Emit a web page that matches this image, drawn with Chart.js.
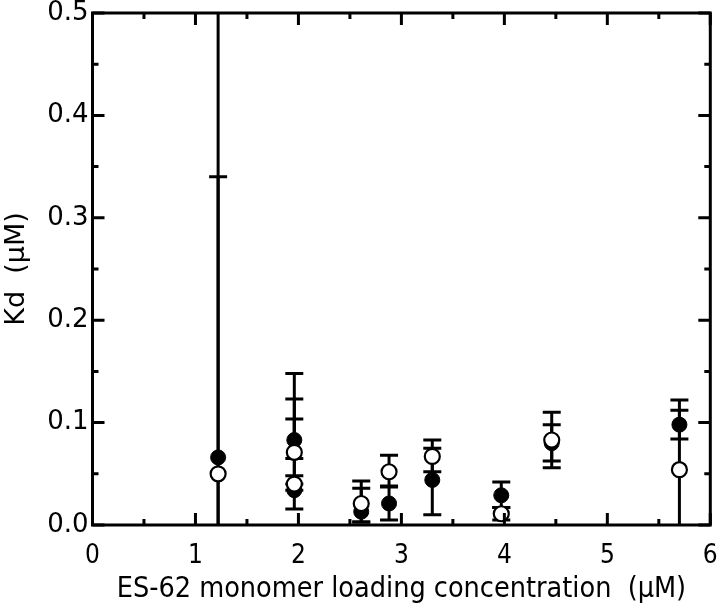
<!DOCTYPE html>
<html>
<head>
<meta charset="utf-8">
<script src="https://cdn.jsdelivr.net/npm/chart.js@4.4.1/dist/chart.umd.min.js"></script>
<style>
  html, body { margin: 0; padding: 0; background: #fff; }
  #wrap { width: 720px; height: 610px; }
</style>
</head>
<body>
<div id="wrap"><canvas id="grafico" width="720" height="610"></canvas></div>
<script>
// loading concentration (uM), same for both series
const concentracao = [1.22, 1.96, 1.96, 2.61, 2.88, 3.30, 3.97, 4.46, 5.70];

// filled circles
const kdCheio = [0.066, 0.083, 0.034, 0.013, 0.021, 0.044, 0.029, 0.080, 0.098];
const kdCheioMax = [0.60, 0.148, 0.1035, 0.036, 0.037, 0.075, 0.042, 0.098, 0.122];
const kdCheioMin = [-0.05, 0.065, 0.0156, 0.003, 0.005, 0.010, 0.017, 0.056, 0.084];

// open circles
const kdAberto = [0.050, 0.071, 0.040, 0.021, 0.052, 0.067, 0.011, 0.083, 0.054];
const kdAbertoMax = [0.340, 0.123, 0.048, 0.043, 0.068, 0.083, 0.017, 0.110, 0.112];
const kdAbertoMin = [-0.05, 0.040, 0.034, 0.003, 0.038, 0.052, 0.005, 0.0625, -0.05];

const xTicks = [0, 1, 2, 3, 4, 5, 6];
const yTicks = [0.0, 0.1, 0.2, 0.3, 0.4, 0.5];

const fonteNormal = 'DejaVu Sans';
const fonteEstreita = '"DejaVu Sans Condensed", "Liberation Sans Narrow", "DejaVu Sans"';

function pontos(ys) {
    return concentracao.map((x, i) => ({ x: x, y: ys[i] }));
}

const barras = [
    { min: kdAbertoMin, max: kdAbertoMax },
    { min: kdCheioMin, max: kdCheioMax }
];

// error bars, drawn under the markers
const errorBars = {
    id: 'errorBars',
    beforeDatasetsDraw(chart) {
        const ctx = chart.ctx;
        const xs = chart.scales.x, ys = chart.scales.y;
        const area = chart.chartArea;
        ctx.save();
        ctx.beginPath();
        ctx.rect(area.left, area.top, area.right - area.left, area.bottom - area.top);
        ctx.clip();
        ctx.strokeStyle = '#000';
        ctx.lineWidth = 3;
        barras.forEach(b => {
            concentracao.forEach((x, i) => {
                const px = xs.getPixelForValue(x);
                const pLo = ys.getPixelForValue(b.min[i]);
                const pHi = ys.getPixelForValue(b.max[i]);
                ctx.beginPath();
                ctx.moveTo(px, pLo);
                ctx.lineTo(px, pHi);
                [pLo, pHi].forEach(p => {
                    if (p > area.top && p < area.bottom) {
                        ctx.moveTo(px - 9, p);
                        ctx.lineTo(px + 9, p);
                    }
                });
                ctx.stroke();
            });
        });
        ctx.restore();
    }
};

// box frame with inward ticks on all four sides
const moldura = {
    id: 'moldura',
    afterDraw(chart) {
        const ctx = chart.ctx;
        const xs = chart.scales.x, ys = chart.scales.y;
        const a = chart.chartArea;
        ctx.save();
        ctx.strokeStyle = '#000';
        ctx.lineWidth = 3;
        ctx.lineCap = 'butt';
        ctx.beginPath();
        for (let k = 0; k <= 12; k++) {
            const v = k * 0.5;
            const px = xs.getPixelForValue(v);
            const len = k % 2 === 0 ? 12 : 6;
            ctx.moveTo(px, a.bottom); ctx.lineTo(px, a.bottom - len);
            ctx.moveTo(px, a.top); ctx.lineTo(px, a.top + len);
        }
        for (let k = 0; k <= 10; k++) {
            const v = k * 0.05;
            const py = ys.getPixelForValue(v);
            const len = k % 2 === 0 ? 12 : 6;
            ctx.moveTo(a.left, py); ctx.lineTo(a.left + len, py);
            ctx.moveTo(a.right, py); ctx.lineTo(a.right - len, py);
        }
        ctx.stroke();
        ctx.strokeRect(a.left, a.top, a.right - a.left, a.bottom - a.top);
        ctx.restore();
    }
};

new Chart(document.getElementById('grafico').getContext('2d'), {
    type: 'scatter',
    data: {
        datasets: [{
            label: 'aberto',
            data: pontos(kdAberto),
            pointRadius: 7.5,
            pointHoverRadius: 7.5,
            pointBackgroundColor: '#fff',
            pointBorderColor: '#000',
            pointBorderWidth: 2.2
        }, {
            label: 'cheio',
            data: pontos(kdCheio),
            pointRadius: 7.5,
            pointHoverRadius: 7.5,
            pointBackgroundColor: '#000',
            pointBorderColor: '#000',
            pointBorderWidth: 1
        }]
    },
    options: {
        responsive: false,
        animation: false,
        devicePixelRatio: 1,
        layout: { padding: { top: 13, right: 7.5, left: 0, bottom: 0 } },
        plugins: {
            legend: { display: false },
            tooltip: { enabled: false }
        },
        scales: {
            x: {
                type: 'linear',
                min: 0,
                max: 6,
                afterBuildTicks: s => { s.ticks = xTicks.map(v => ({ value: v })); },
                afterFit: s => { s.height = 85; s.paddingLeft = 0; s.paddingRight = 0; },
                grid: { display: false, drawTicks: false },
                border: { display: false },
                ticks: {
                    color: '#000',
                    padding: 16,
                    font: { family: fonteEstreita, size: 26 },
                    callback: v => String(v)
                },
                title: {
                    display: true,
                    text: 'ES-62 monomer loading concentration  (μM)',
                    color: '#000',
                    font: { family: fonteEstreita, size: 28.5 },
                    padding: { bottom: 3 }
                }
            },
            y: {
                type: 'linear',
                min: 0,
                max: 0.5,
                afterBuildTicks: s => { s.ticks = yTicks.map(v => ({ value: v })); },
                afterFit: s => { s.width = 92.5; s.paddingTop = 0; s.paddingBottom = 0; },
                grid: { display: false, drawTicks: false },
                border: { display: false },
                ticks: {
                    color: '#000',
                    padding: 4,
                    font: { family: fonteNormal, size: 26 },
                    callback: v => v.toFixed(1)
                },
                title: {
                    display: true,
                    text: 'Kd  (μM)',
                    color: '#000',
                    font: { family: fonteNormal, size: 27 },
                    padding: { top: 1 }
                }
            }
        }
    },
    plugins: [errorBars, moldura]
});
</script>
</body>
</html>
